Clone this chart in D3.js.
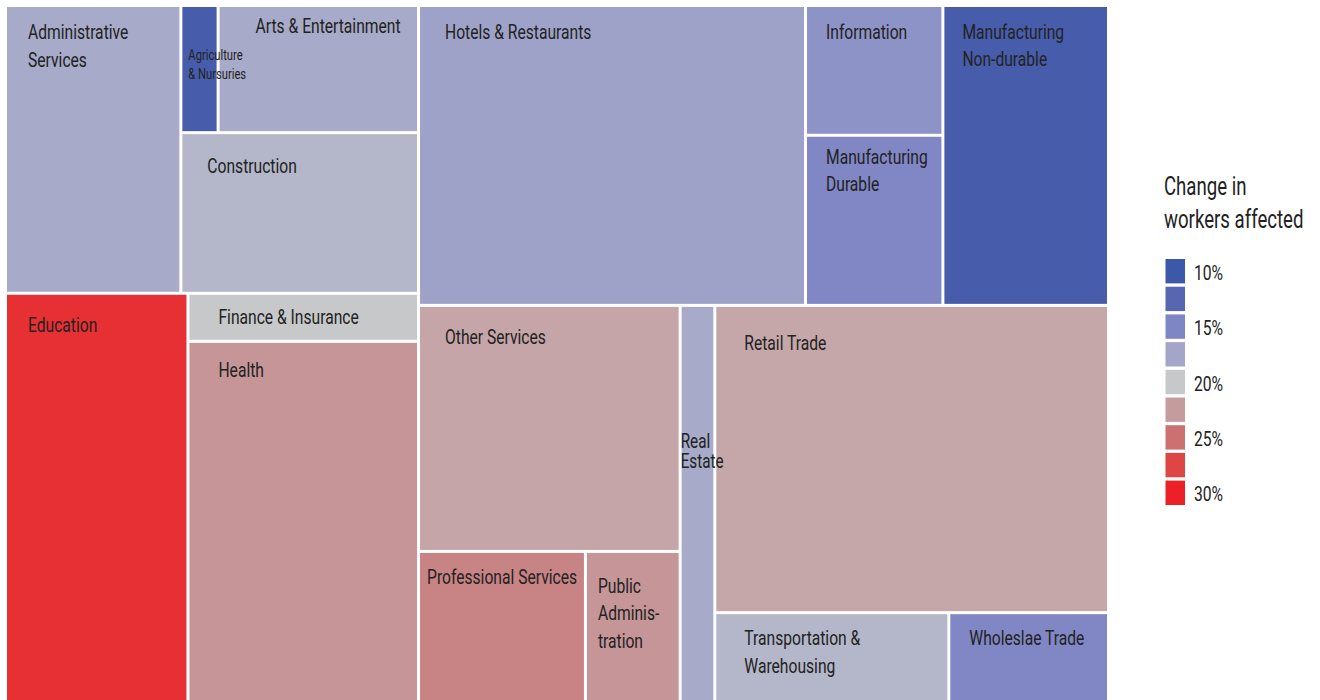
<!DOCTYPE html>
<html>
<head>
<meta charset="utf-8">
<script src="https://cdn.jsdelivr.net/npm/d3@7/dist/d3.min.js"></script>
<style>
  html, body {
    margin: 0;
    padding: 0;
    background: #ffffff;
  }

  svg text {
    font-family: Roboto, 'Noto Sans', sans-serif;
    fill: #222222;
  }

  .cell-label {
    font-size: 21px;
  }

  .legend-title {
    font-size: 25px;
  }

  .legend-label {
    font-size: 21px;
  }
</style>
</head>
<body>
<svg id="chart" width="1320" height="700"></svg>
<script>
// industries, workers affected (thousands) and change in %
const categories = [
  'Administrative Services',
  'Agriculture & Nursuries',
  'Arts & Entertainment',
  'Construction',
  'Education',
  'Finance & Insurance',
  'Health',
  'Hotels & Restaurants',
  'Information',
  'Manufacturing Durable',
  'Manufacturing Non-durable',
  'Other Services',
  'Professional Services',
  'Public Administration',
  'Real Estate',
  'Retail Trade',
  'Transportation & Warehousing',
  'Wholeslae Trade',
];

const workers = [
  501, 47, 253, 379, 743, 110, 829, 1152, 177, 232, 493, 639, 252, 143, 137,
  1201, 211, 144,
];

const change = [
  17.8, 11.0, 17.8, 18.7, 28.9, 20.0, 22.9, 17.2, 16.0, 15.1, 11.0, 22.0, 23.9,
  22.9, 17.8, 21.9, 18.7, 15.1,
];

const labels = [
  'Administrative\nServices',
  'Agriculture\n& Nursuries',
  'Arts & Entertainment',
  'Construction',
  'Education',
  'Finance & Insurance',
  'Health',
  'Hotels & Restaurants',
  'Information',
  'Manufacturing\nDurable',
  'Manufacturing\nNon-durable',
  'Other Services',
  'Professional Services',
  'Public\nAdminis-\ntration',
  'Real\nEstate',
  'Retail Trade',
  'Transportation &\nWarehousing',
  'Wholeslae Trade',
];

// legend steps (change in workers affected, %)
const legendSteps = [10, 12.5, 15, 17.5, 20, 22.5, 25, 27.5, 30];
const legendColors = [
  '#3c58a8', '#5865b0', '#7f86c4', '#a3a6c8', '#c7c8ca',
  '#c49c9e', '#cc7072', '#e04546', '#ec2026',
];
const legendTicks = [10, 15, 20, 25, 30];

// how the cells are grouped: 'x' splits side by side, 'y' stacks
const groups = ['x', [
  ['y', [
    ['x', ['Administrative Services',
      ['y', [['x', ['Agriculture & Nursuries', 'Arts & Entertainment']], 'Construction']]]],
    ['x', ['Education', ['y', ['Finance & Insurance', 'Health']]]],
  ]],
  ['y', [
    ['x', ['Hotels & Restaurants',
      ['y', ['Information', 'Manufacturing Durable']],
      'Manufacturing Non-durable']],
    ['x', [
      ['y', ['Other Services', ['x', ['Professional Services', 'Public Administration']]]],
      'Real Estate',
      ['y', ['Retail Trade', ['x', ['Transportation & Warehousing', 'Wholeslae Trade']]]],
    ]],
  ]],
]];

// label placement inside each cell: [dx, first baseline, line height, font size]
const labelPlace = {
  'Administrative Services': [21, 32, 28, 21],
  'Agriculture & Nursuries': [6, 53, 19, 15],
  'Arts & Entertainment': [36, 26, 28, 21],
  'Construction': [25, 39, 28, 21],
  'Education': [21, 37, 28, 21],
  'Finance & Insurance': [29, 29, 28, 21],
  'Health': [29, 34, 28, 21],
  'Hotels & Restaurants': [25, 32, 28, 21],
  'Information': [19, 32, 28, 21],
  'Manufacturing Durable': [19, 27, 27, 21],
  'Manufacturing Non-durable': [18, 32, 27.5, 21],
  'Other Services': [25, 37, 28, 21],
  'Professional Services': [7, 31, 28, 21],
  'Public Administration': [11, 40, 27.5, 21],
  'Real Estate': [-1, 141, 20.5, 20.5],
  'Retail Trade': [28, 43, 28, 21],
  'Transportation & Warehousing': [28, 31, 27.5, 21],
  'Wholeslae Trade': [19, 31, 28, 21],
};

const squeeze = 0.745; // condensed look of the type

const svg = d3.select('#chart');
const margin = { top: 7, left: 7 };
const width = 1100;
const height = 695;

const color = d3.scaleLinear().domain(legendSteps).range(legendColors).clamp(true);

function build(node) {
  if (typeof node === 'string') {
    const i = categories.indexOf(node);
    return { name: node, value: workers[i], change: change[i], label: labels[i] };
  }
  return { dir: node[0], children: node[1].map(build) };
}

function tile(node, x0, y0, x1, y1) {
  if (node.data.dir === 'x') {
    d3.treemapDice(node, x0, y0, x1, y1);
  } else {
    d3.treemapSlice(node, x0, y0, x1, y1);
  }
}

const root = d3
  .hierarchy(build(groups))
  .sum(function (d) {
    return d.value || 0;
  });

d3.treemap().tile(tile).size([width, height]).paddingInner(3)(root);

const g = svg
  .append('g')
  .attr('transform', 'translate(' + margin.left + ',' + margin.top + ')');

g.append('g')
  .attr('class', 'cells')
  .selectAll('rect')
  .data(root.leaves())
  .enter()
  .append('rect')
  .attr('x', (d) => d.x0)
  .attr('y', (d) => d.y0)
  .attr('width', (d) => d.x1 - d.x0)
  .attr('height', (d) => d.y1 - d.y0)
  .attr('fill', (d) => color(d.data.change));

// labels on their own layer, some run over the next cell
g.append('g')
  .attr('class', 'labels')
  .selectAll('text')
  .data(root.leaves())
  .enter()
  .append('text')
  .attr('class', 'cell-label')
  .attr('transform', (d) => {
    const p = labelPlace[d.data.name];
    return 'translate(' + (d.x0 + p[0]) + ',' + (d.y0 + p[1]) + ') scale(' + squeeze + ',1)';
  })
  .style('font-size', (d) => labelPlace[d.data.name][3] + 'px')
  .selectAll('tspan')
  .data((d) =>
    d.data.label.split('\n').map((t) => ({ t: t, lh: labelPlace[d.data.name][2] }))
  )
  .enter()
  .append('tspan')
  .attr('x', 0)
  .attr('dy', (d, i) => (i === 0 ? 0 : d.lh))
  .text((d) => d.t);

// legend
const legend = svg.append('g').attr('class', 'legend').attr('transform', 'translate(1164,0)');

legend
  .append('text')
  .attr('class', 'legend-title')
  .attr('transform', 'translate(0,195) scale(' + squeeze + ',1)')
  .selectAll('tspan')
  .data(['Change in', 'workers affected'])
  .enter()
  .append('tspan')
  .attr('x', 0)
  .attr('dy', (d, i) => (i === 0 ? 0 : 33))
  .text((d) => d);

const ly = d3.scaleBand().domain(legendSteps).range([259, 505]).paddingInner(0.12);

legend
  .selectAll('rect')
  .data(legendSteps)
  .enter()
  .append('rect')
  .attr('x', 1.5)
  .attr('y', (d) => ly(d))
  .attr('width', 19.5)
  .attr('height', ly.bandwidth())
  .attr('fill', (d) => color(d));

legend
  .selectAll('text.legend-label')
  .data(legendTicks)
  .enter()
  .append('text')
  .attr('class', 'legend-label')
  .attr('transform', (d) => 'translate(30,' + (ly(d) + ly.bandwidth() / 2 + 8.5) + ') scale(' + squeeze + ',1)')
  .text((d) => d + '%');
</script>
</body>
</html>
